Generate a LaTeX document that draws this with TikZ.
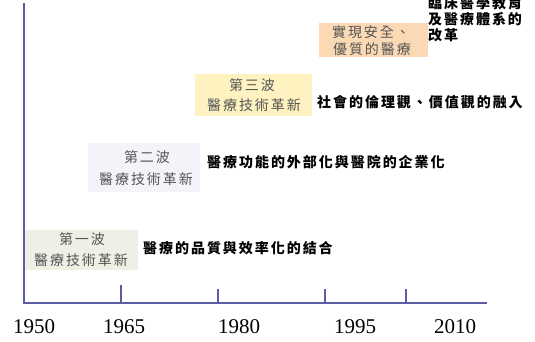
\documentclass[tikz,border=0pt]{standalone}
\usepackage{fontspec}
\setmainfont{Liberation Serif}
\newfontfamily\cjk{Noto Sans CJK TC}[LetterSpace=14]
\definecolor{axiscol}{HTML}{5A5EA0}
\definecolor{boxone}{HTML}{EEF0E6}
\definecolor{boxtwo}{HTML}{F2F4F9}
\definecolor{boxthree}{HTML}{FDF2C0}
\definecolor{boxfour}{HTML}{FBD9B5}
\definecolor{boxtext}{HTML}{555555}
\begin{document}
\begin{tikzpicture}[x=1pt,y=-1pt,
  axisline/.style={draw=axiscol,line width=2pt},
  boxlabel/.style={font=\cjk\fontsize{14}{21}\selectfont,text=boxtext,align=center,inner sep=0pt},
  desc/.style={font=\cjk\bfseries\fontsize{14}{16}\selectfont,text=black,anchor=west,inner sep=0pt,align=left},
  year/.style={font=\fontsize{21}{21}\selectfont,inner sep=0pt}]
\useasboundingbox (0,0) rectangle (535,341);
\fill[white] (0,0) rectangle (535,341);
% boxes
\fill[boxone] (24,230) rectangle (138,270);
\fill[boxtwo] (88,143) rectangle (200,192);
\fill[boxthree] (195,74) rectangle (312,116);
\fill[boxfour] (319,23) rectangle (428,57);
% box labels
\node[boxlabel] (w1a) at (82,239) {第一波};
\node[boxlabel] (w1b) at (81,260) {醫療技術革新};
\node[boxlabel] (w2a) at (147,157) {第二波};
\node[boxlabel] (w2b) at (146,179) {醫療技術革新};
\node[boxlabel] (w3a) at (252,85) {第三波};
\node[boxlabel] (w3b) at (254,105) {醫療技術革新};
\node[boxlabel] (w4a) at (371,32) {實現安全、};
\node[boxlabel] (w4b) at (372,49) {優質的醫療};
% descriptions
\node[desc] (d1) at (143,248) {醫療的品質與效率化的結合};
\node[desc] (d2) at (207,162) {醫療功能的外部化與醫院的企業化};
\node[desc] (d3) at (317,102) {社會的倫理觀、價值觀的融入};
\node[desc,anchor=north west] (d4) at (428,-4) {臨床醫學教育\\及醫療體系的\\改革};
% axes
\coordinate (top) at (24,3);
\coordinate (origin) at (24,303);
\coordinate (xend) at (487,303);
\draw[axisline] (top) -- (origin) -- (xend);
\foreach \x/\t in {121/285,218/289,325/289,406/289}{
  \draw[axisline] (\x,\t) -- (\x,303);
}
% years
\node[year] (y1950) at (34,327) {1950};
\node[year] (y1965) at (124,327) {1965};
\node[year] (y1980) at (239,327) {1980};
\node[year] (y1995) at (355,327) {1995};
\node[year] (y2010) at (455,327) {2010};
\end{tikzpicture}
\end{document}
